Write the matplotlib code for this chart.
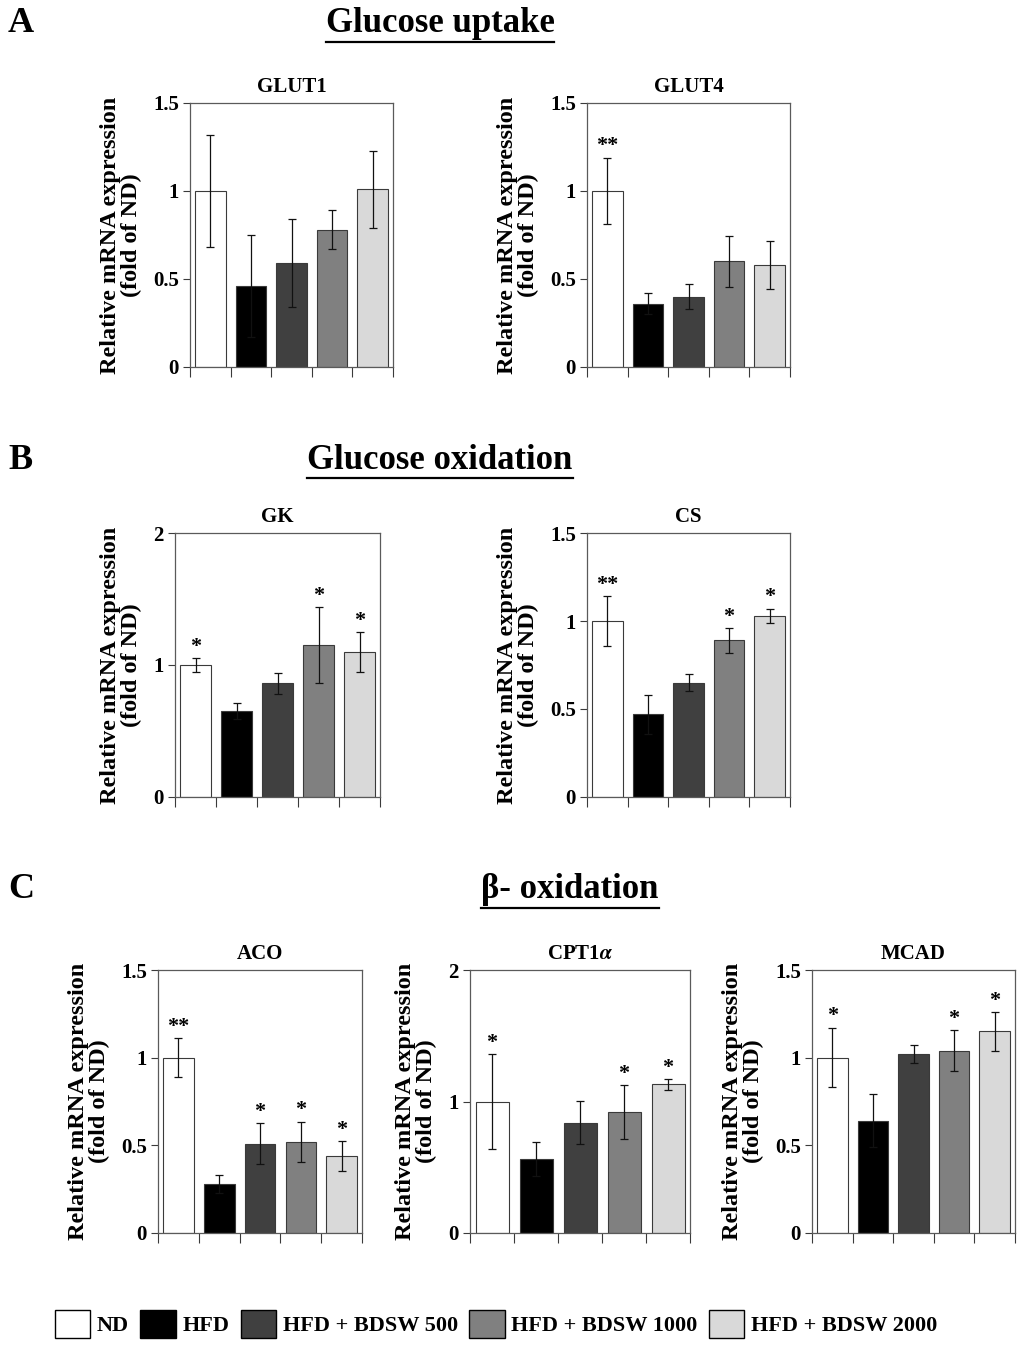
import numpy as np
import matplotlib.pyplot as plt
from matplotlib.patches import Patch
from matplotlib.lines import Line2D

plt.rcParams['font.family'] = ['Liberation Serif', 'DejaVu Serif']
plt.rcParams['font.weight'] = 'bold'
plt.rcParams['axes.titleweight'] = 'bold'
plt.rcParams['axes.labelweight'] = 'bold'
plt.rcParams['mathtext.fontset'] = 'stix'

W, H = 1024, 1352

groups = ["ND", "HFD", "HFD + BDSW 500", "HFD + BDSW 1000", "HFD + BDSW 2000"]
colors = ["#ffffff", "#000000", "#404040", "#808080", "#d9d9d9"]

glut1 = [1.00, 0.46, 0.59, 0.78, 1.01]
glut1Err = [0.32, 0.29, 0.25, 0.11, 0.22]
glut1Sig = ["", "", "", "", ""]

glut4 = [1.00, 0.36, 0.40, 0.60, 0.58]
glut4Err = [0.19, 0.06, 0.07, 0.145, 0.135]
glut4Sig = ["**", "", "", "", ""]

gk = [1.00, 0.65, 0.86, 1.15, 1.10]
gkErr = [0.05, 0.06, 0.08, 0.29, 0.15]
gkSig = ["*", "", "", "*", "*"]

cs = [1.00, 0.47, 0.65, 0.89, 1.03]
csErr = [0.14, 0.11, 0.05, 0.07, 0.04]
csSig = ["**", "", "", "*", "*"]

aco = [1.00, 0.28, 0.51, 0.52, 0.44]
acoErr = [0.11, 0.05, 0.115, 0.115, 0.085]
acoSig = ["**", "", "*", "*", "*"]

cpt = [1.00, 0.56, 0.84, 0.92, 1.13]
cptErr = [0.36, 0.13, 0.165, 0.205, 0.04]
cptSig = ["*", "", "", "*", "*"]

mcad = [1.00, 0.64, 1.02, 1.04, 1.15]
mcadErr = [0.17, 0.15, 0.05, 0.115, 0.11]
mcadSig = ["*", "", "", "*", "*"]


def Box(l, t, r, b):
    return [l / W, 1 - b / H, (r - l) / W, (b - t) / H]


def Panel(fig, box, title, values, errors, marks, ymax, yticks):
    ax = fig.add_axes(Box(*box))
    x = np.arange(len(values))
    ax.bar(x, values, width=0.75, color=colors, edgecolor="#3a3a3a", linewidth=0.8, zorder=2)
    ax.errorbar(x, values, yerr=errors, fmt="none", ecolor="#111111", elinewidth=0.9,
                capsize=3, capthick=0.9, zorder=3)
    for i in range(len(values)):
        if marks[i]:
            ax.annotate(marks[i], (x[i], values[i] + errors[i]), xytext=(0, 1),
                        textcoords="offset points", ha="center", va="bottom", fontsize=16)
    ax.set_xlim(-0.5, len(values) - 0.5)
    ax.set_ylim(0, ymax)
    ax.set_xticks([])
    ax.set_xticks(np.arange(len(values) + 1) - 0.5, minor=True)
    ax.tick_params(axis="x", which="minor", length=7, width=0.8, color="#3a3a3a", direction="out")
    ax.set_yticks(yticks)
    ax.set_yticklabels([f"{v:g}" for v in yticks], fontsize=15)
    ax.tick_params(axis="y", length=5, width=0.8, color="#3a3a3a", direction="out", pad=3)
    for s in ax.spines.values():
        s.set_color("#5a5a5a")
        s.set_linewidth(0.9)
    ax.set_title(title, fontsize=15, pad=8)
    ax.set_ylabel("Relative mRNA expression\n(fold of ND)", fontsize=17.5, linespacing=1.0, labelpad=8)
    return ax


fig = plt.figure(figsize=(W / 100, H / 100), dpi=100)

Panel(fig, (190, 103, 393, 367), "GLUT1", glut1, glut1Err, glut1Sig, 1.5, [0, 0.5, 1, 1.5])
Panel(fig, (587, 103, 790, 367), "GLUT4", glut4, glut4Err, glut4Sig, 1.5, [0, 0.5, 1, 1.5])
Panel(fig, (175, 533, 380, 797), "GK", gk, gkErr, gkSig, 2, [0, 1, 2])
Panel(fig, (587, 533, 790, 797), "CS", cs, csErr, csSig, 1.5, [0, 0.5, 1, 1.5])
Panel(fig, (158, 970, 362, 1233), "ACO", aco, acoErr, acoSig, 1.5, [0, 0.5, 1, 1.5])
Panel(fig, (470, 970, 690, 1233), "CPT1$\\mathit{\\alpha}$", cpt, cptErr, cptSig, 2, [0, 1, 2])
Panel(fig, (812, 970, 1015, 1233), "MCAD", mcad, mcadErr, mcadSig, 1.5, [0, 0.5, 1, 1.5])

# section headers
headers = [("A", "Glucose uptake", 440, 24), ("B", "Glucose oxidation", 440, 460),
           ("C", "β- oxidation", 570, 890)]
heads = []
for letter, text, cx, cy in headers:
    fig.text(8 / W, 1 - cy / H, letter, fontsize=26, ha="left", va="center")
    heads.append(fig.text(cx / W, 1 - cy / H, text, fontsize=25, ha="center", va="center"))

fig.canvas.draw()
renderer = fig.canvas.get_renderer()
for t in heads:
    bb = t.get_window_extent(renderer)
    yline = (bb.y0 - 1) / H
    fig.add_artist(Line2D([bb.x0 / W, bb.x1 / W], [yline, yline], color="black", lw=1.6))

handles = [Patch(facecolor=c, edgecolor="black", linewidth=1.0) for c in colors]
fig.legend(handles, groups, loc="center", bbox_to_anchor=(496 / W, 1 - 1324 / H), ncol=5,
           frameon=False, fontsize=16, handlelength=1.6, handleheight=1.5,
           handletextpad=0.3, columnspacing=0.5)

fig.savefig("out.png", dpi=100)
